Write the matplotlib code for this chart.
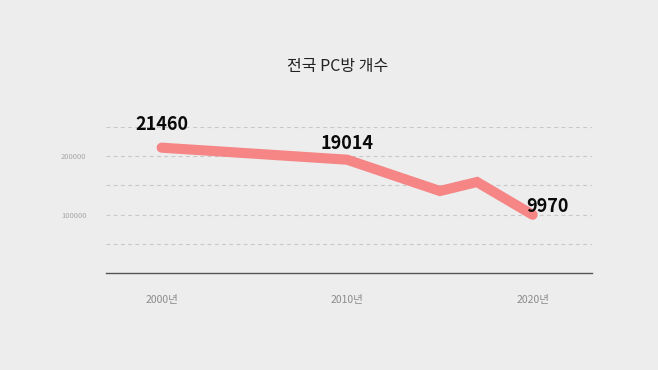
import matplotlib
matplotlib.use("Agg")
import matplotlib.pyplot as plt

plt.rcParams['font.family'] = ['Noto Sans CJK KR', 'DejaVu Sans']

title = "전국 PC방 개수"
years = [2000, 2010, 2015, 2017, 2020]
counts = [21460, 19400, 14040, 15580, 9970]
labeled_years = [2000, 2010, 2020]
labeled_counts = [21460, 19014, 9970]
label_at = [21460, 19400, 9970]
x_ticks = [2000, 2010, 2020]
x_tick_labels = ["2000년", "2010년", "2020년"]
y_ticks = [20000, 10000]
y_tick_labels = ["200000", "100000"]
grid_levels = [5000, 10000, 15000, 20000, 25000]

bg = "#ededed"
fig = plt.figure(figsize=(6.58, 3.70), dpi=100, facecolor=bg)
ax = fig.add_axes([106/658, (370-273)/370, (592-106)/658, (273-127)/370])
ax.set_facecolor(bg)
ax.set_xlim(1997.0, 2023.2)
ax.set_ylim(0, 25000)

for g in grid_levels:
    ax.axhline(g, color="#c8c8c8", lw=0.8, ls=(0, (3.5, 3)), zorder=1)

ax.plot(years, counts, color="#f68686", lw=7.3, solid_capstyle="round",
        solid_joinstyle="miter", zorder=3)

offsets = {2000: (0, 10), 2010: (0, 5), 2020: (11, -1)}
for yr, c, at in zip(labeled_years, labeled_counts, label_at):
    dx, dy = offsets[yr]
    ax.annotate(str(c), (yr, at), xytext=(dx, dy), textcoords="offset points",
                ha="center", va="bottom", fontsize=13, fontweight="heavy",
                color="#0a0a0a", zorder=4)

for s in ["left", "right", "top"]:
    ax.spines[s].set_visible(False)
ax.spines["bottom"].set_color("#555555")
ax.spines["bottom"].set_linewidth(1.0)

ax.set_xticks(x_ticks)
ax.set_xticklabels(x_tick_labels, fontsize=7.5, color="#8a8a8a")
ax.tick_params(axis="x", length=0, pad=16)
ax.set_yticks(y_ticks)
ax.set_yticklabels(y_tick_labels, fontsize=5.5, color="#a8a8a8")
ax.tick_params(axis="y", length=0, pad=14)

fig.text(338/658, 1 - 67/370, title, ha="center", va="center",
         fontsize=11.5, color="#222222")

fig.savefig("out.png", dpi=100, facecolor=bg)
